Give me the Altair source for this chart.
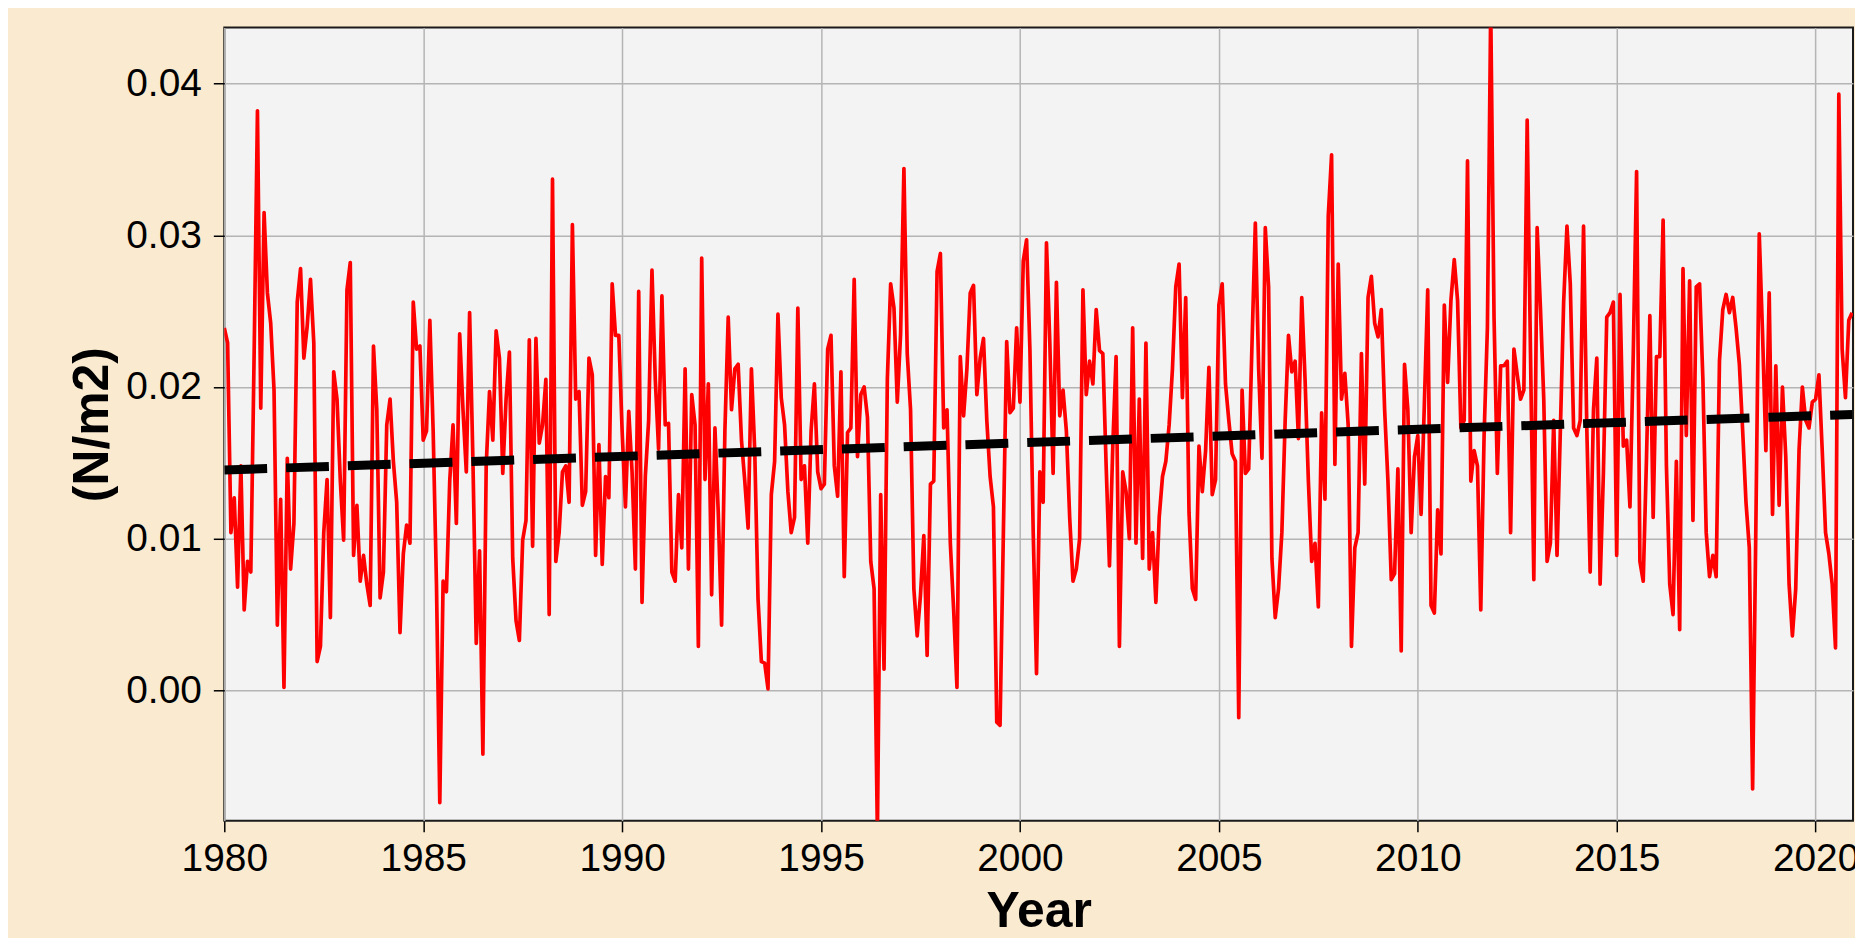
import altair as alt
import pandas as pd

# Monthly wind stress (N/m2), Jan 1980 - Dec 2020
stress_1980_1985 = [
    0.0239, 0.0229, 0.0104, 0.0127, 0.0068, 0.0148, 0.0053, 0.0085, 0.0078, 0.0222, 0.0382, 0.0186,
    0.0315, 0.0262, 0.0242, 0.0198, 0.0043, 0.0126, 0.0002, 0.0153, 0.0080, 0.0110, 0.0256, 0.0278,
    0.0219, 0.0240, 0.0271, 0.0229, 0.0019, 0.0029, 0.0104, 0.0139, 0.0048, 0.0210, 0.0192, 0.0138,
    0.0099, 0.0264, 0.0282, 0.0089, 0.0122, 0.0072, 0.0089, 0.0070, 0.0056, 0.0227, 0.0185, 0.0061,
    0.0078, 0.0175, 0.0192, 0.0151, 0.0124, 0.0038, 0.0090, 0.0109, 0.0097, 0.0256, 0.0225, 0.0227,
    0.0165, 0.0171, 0.0244, 0.0171, 0.0070, -0.0074, 0.0072, 0.0065, 0.0138, 0.0175, 0.0110, 0.0235,
]
stress_1986_1991 = [
    0.0185, 0.0144, 0.0249, 0.0151, 0.0031, 0.0092, -0.0042, 0.0148, 0.0197, 0.0165, 0.0237, 0.0219,
    0.0143, 0.0192, 0.0223, 0.0087, 0.0046, 0.0033, 0.0099, 0.0112, 0.0231, 0.0095, 0.0232, 0.0163,
    0.0175, 0.0205, 0.0050, 0.0337, 0.0085, 0.0104, 0.0144, 0.0148, 0.0124, 0.0307, 0.0192, 0.0197,
    0.0122, 0.0131, 0.0219, 0.0208, 0.0089, 0.0162, 0.0083, 0.0141, 0.0127, 0.0268, 0.0234, 0.0234,
    0.0171, 0.0121, 0.0184, 0.0144, 0.0080, 0.0263, 0.0058, 0.0141, 0.0178, 0.0277, 0.0205, 0.0159,
    0.0260, 0.0175, 0.0176, 0.0078, 0.0072, 0.0129, 0.0094, 0.0212, 0.0080, 0.0195, 0.0175, 0.0029,
]
stress_1992_1997 = [
    0.0285, 0.0139, 0.0202, 0.0063, 0.0173, 0.0117, 0.0043, 0.0171, 0.0246, 0.0185, 0.0212, 0.0215,
    0.0165, 0.0138, 0.0107, 0.0212, 0.0158, 0.0060, 0.0019, 0.0018, 0.0001, 0.0129, 0.0151, 0.0248,
    0.0193, 0.0175, 0.0131, 0.0104, 0.0114, 0.0252, 0.0139, 0.0148, 0.0097, 0.0171, 0.0202, 0.0144,
    0.0133, 0.0136, 0.0225, 0.0234, 0.0148, 0.0128, 0.0210, 0.0075, 0.0170, 0.0173, 0.0271, 0.0154,
    0.0195, 0.0200, 0.0180, 0.0085, 0.0067, -0.0095, 0.0129, 0.0014, 0.0205, 0.0268, 0.0252, 0.0190,
    0.0235, 0.0344, 0.0222, 0.0185, 0.0067, 0.0036, 0.0063, 0.0102, 0.0023, 0.0136, 0.0138, 0.0276,
]
stress_1998_2003 = [
    0.0288, 0.0173, 0.0185, 0.0097, 0.0053, 0.0002, 0.0220, 0.0181, 0.0212, 0.0262, 0.0267, 0.0195,
    0.0219, 0.0232, 0.0178, 0.0141, 0.0121, -0.0021, -0.0023, 0.0104, 0.0230, 0.0183, 0.0186, 0.0239,
    0.0190, 0.0283, 0.0297, 0.0225, 0.0104, 0.0011, 0.0144, 0.0124, 0.0295, 0.0230, 0.0143, 0.0269,
    0.0181, 0.0198, 0.0171, 0.0114, 0.0072, 0.0080, 0.0100, 0.0264, 0.0195, 0.0217, 0.0202, 0.0251,
    0.0224, 0.0222, 0.0148, 0.0082, 0.0161, 0.0220, 0.0029, 0.0144, 0.0131, 0.0100, 0.0239, 0.0097,
    0.0192, 0.0087, 0.0229, 0.0080, 0.0104, 0.0058, 0.0114, 0.0141, 0.0151, 0.0175, 0.0212, 0.0266,
]
stress_2004_2009 = [
    0.0281, 0.0193, 0.0259, 0.0117, 0.0067, 0.0060, 0.0161, 0.0131, 0.0158, 0.0213, 0.0129, 0.0139,
    0.0254, 0.0268, 0.0202, 0.0178, 0.0156, 0.0151, -0.0018, 0.0198, 0.0143, 0.0146, 0.0229, 0.0308,
    0.0212, 0.0153, 0.0305, 0.0266, 0.0087, 0.0048, 0.0067, 0.0104, 0.0178, 0.0234, 0.0210, 0.0217,
    0.0166, 0.0259, 0.0205, 0.0138, 0.0085, 0.0097, 0.0055, 0.0183, 0.0126, 0.0313, 0.0353, 0.0149,
    0.0281, 0.0192, 0.0209, 0.0175, 0.0029, 0.0094, 0.0104, 0.0222, 0.0136, 0.0259, 0.0273, 0.0242,
    0.0233, 0.0251, 0.0185, 0.0138, 0.0073, 0.0077, 0.0146, 0.0026, 0.0215, 0.0185, 0.0104, 0.0154,
]
stress_2010_2015 = [
    0.0168, 0.0116, 0.0190, 0.0264, 0.0056, 0.0051, 0.0119, 0.0090, 0.0254, 0.0203, 0.0257, 0.0284,
    0.0257, 0.0173, 0.0178, 0.0349, 0.0138, 0.0158, 0.0148, 0.0053, 0.0168, 0.0239, 0.0450, 0.0246,
    0.0143, 0.0214, 0.0214, 0.0217, 0.0104, 0.0225, 0.0208, 0.0192, 0.0198, 0.0376, 0.0222, 0.0073,
    0.0305, 0.0252, 0.0192, 0.0085, 0.0097, 0.0178, 0.0089, 0.0171, 0.0256, 0.0306, 0.0268, 0.0173,
    0.0168, 0.0178, 0.0306, 0.0171, 0.0078, 0.0185, 0.0219, 0.0070, 0.0144, 0.0246, 0.0249, 0.0256,
    0.0089, 0.0261, 0.0161, 0.0165, 0.0121, 0.0222, 0.0342, 0.0085, 0.0072, 0.0154, 0.0247, 0.0114,
]
stress_2016_2020 = [
    0.0220, 0.0220, 0.0310, 0.0148, 0.0070, 0.0050, 0.0151, 0.0040, 0.0278, 0.0168, 0.0270, 0.0112,
    0.0266, 0.0268, 0.0205, 0.0104, 0.0075, 0.0089, 0.0075, 0.0217, 0.0251, 0.0261, 0.0249, 0.0259,
    0.0239, 0.0215, 0.0171, 0.0124, 0.0094, -0.0065, 0.0112, 0.0301, 0.0235, 0.0158, 0.0262, 0.0116,
    0.0214, 0.0122, 0.0200, 0.0154, 0.0070, 0.0036, 0.0067, 0.0158, 0.0200, 0.0178, 0.0173, 0.0190,
    0.0192, 0.0208, 0.0158, 0.0104, 0.0090, 0.0070, 0.0028, 0.0393, 0.0225, 0.0193, 0.0244, 0.0249,
]

# Linear trend end points (dashed black line)
trend_years = [1980.0, 2020.917]
trend_values = [0.01453, 0.01819]

x_ticks = [1980, 1985, 1990, 1995, 2000, 2005, 2010, 2015, 2020]
y_ticks = [0.00, 0.01, 0.02, 0.03, 0.04]

stress = (stress_1980_1985 + stress_1986_1991 + stress_1992_1997 + stress_1998_2003
          + stress_2004_2009 + stress_2010_2015 + stress_2016_2020)
df = pd.DataFrame({
    "year": [1980 + i / 12 for i in range(len(stress))],
    "stress": stress,
})
trend_df = pd.DataFrame({"year": trend_years, "stress": trend_values})

FONT = "Liberation Sans"
x_scale = alt.Scale(domain=[1980, 2020.94], nice=False, zero=False)
y_scale = alt.Scale(domain=[-0.0086, 0.0437], nice=False, zero=False)

x_axis = alt.Axis(values=x_ticks, format="d", title="Year", labelFlush=False,
                  labelPadding=8, titlePadding=8)
y_axis = alt.Axis(values=y_ticks, format=".2f", title="(N/m2)",
                  labelPadding=12, titlePadding=8)

line = alt.Chart(df).mark_line(color="#ff0000", strokeWidth=3.7, clip=True,
                               strokeJoin="round").encode(
    x=alt.X("year:Q", scale=x_scale, axis=x_axis),
    y=alt.Y("stress:Q", scale=y_scale, axis=y_axis),
)

trend = alt.Chart(trend_df).mark_line(color="black", strokeWidth=9,
                                      strokeDash=[43, 19], strokeCap="butt",
                                      clip=True).encode(
    x=alt.X("year:Q", scale=x_scale),
    y=alt.Y("stress:Q", scale=y_scale),
)

chart = alt.layer(line, trend).properties(
    width=1634, height=796,
    autosize=alt.AutoSizeParams(type="none"),
    padding={"left": 217, "top": 18, "right": 2, "bottom": 116},
    background="#faebd0",
).configure_view(
    fill="#f3f3f3", stroke="#1a1a1a", strokeWidth=2,
).configure_axis(
    grid=True, gridColor="#b4b4b4", gridWidth=1.5,
    domain=False,
    tickColor="black", tickWidth=1.5, tickSize=11,
    labelFont=FONT, labelFontSize=39, labelColor="black",
    titleFont=FONT, titleFontSize=50, titleFontWeight="bold", titleColor="black",
)

chart.save("out.html", embed_options={"renderer": "svg", "actions": False})
